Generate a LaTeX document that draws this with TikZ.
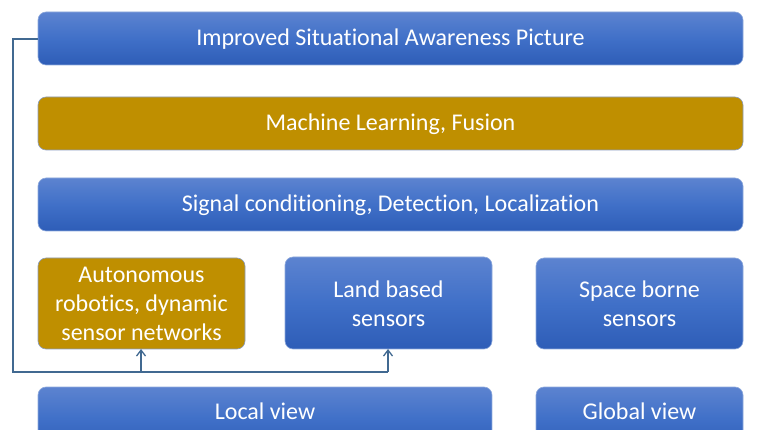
\documentclass[tikz,border=0pt]{standalone}
\usepackage{fontspec}
\setmainfont{Carlito}[RawFeature={-liga;-clig;-calt}]
\usetikzlibrary{arrows.meta,calc}
\definecolor{bluetop}{RGB}{92,131,208}
\definecolor{bluemid}{RGB}{64,112,200}
\definecolor{bluebot}{RGB}{46,93,183}
\definecolor{boxline}{RGB}{143,170,220}
\definecolor{gold}{RGB}{191,143,0}
\definecolor{conn}{RGB}{65,105,145}
\tikzset{
  bluebox/.style={rounded corners=8pt, draw=boxline, line width=0.6pt,
    top color=bluetop, bottom color=bluebot, middle color=bluemid},
  goldbox/.style={rounded corners=8pt, draw=boxline!70!gray, line width=0.6pt, fill=gold},
  lbl/.style={text=white, font=\fontsize{24}{29}\selectfont, align=center},
  conline/.style={draw=conn, line width=1.3pt},
  conarrow/.style={conline, -{Straight Barb[length=6pt,width=9pt,line width=1.3pt]}}
}
\begin{document}
\begin{tikzpicture}[x=1pt,y=-1pt]
\clip (0,0) rectangle (766,430);
\useasboundingbox (0,0) rectangle (766,430);
% boxes
\path[bluebox] (38,12) rectangle (743,65);
\node[lbl] (top) at (390.5,39.5) {Improved Situational Awareness Picture};
\coordinate (topL) at (38,39);
\path[goldbox] (38,97) rectangle (743,150);
\node[lbl] (ml) at (390.5,124.5) {Machine Learning, Fusion};
\path[bluebox] (38,178) rectangle (743,231);
\node[lbl] (sig) at (390.5,205.5) {Signal conditioning, Detection, Localization};
\path[goldbox] (38,258) rectangle (245,349);
\node[lbl] (auto) at (141.5,304) {Autonomous\\robotics, dynamic\\sensor networks};
\coordinate (autoB) at (141,349);
\path[bluebox] (285,257) rectangle (492,349);
\node[lbl] (land) at (388.5,304) {Land based\\sensors};
\coordinate (landB) at (388,349);
\path[bluebox] (536,258) rectangle (743,349);
\node[lbl] (space) at (639.5,304) {Space borne\\sensors};
\path[bluebox] (38,387) rectangle (492,450);
\node[lbl] (local) at (265,411) {Local view};
\path[bluebox] (536,387) rectangle (743,450);
\node[lbl] (global) at (639.5,411) {Global view};
% connectors
\coordinate (c1) at (13,39);
\coordinate (c2) at (13,372);
\coordinate (c3) at (141,372);
\coordinate (c4) at (388,372);
\draw[conline] (topL) -- (c1) -- (c2) -- (c4);
\draw[conarrow] (c3) -- (autoB);
\draw[conarrow] (c4) -- (landB);
\end{tikzpicture}
\end{document}
